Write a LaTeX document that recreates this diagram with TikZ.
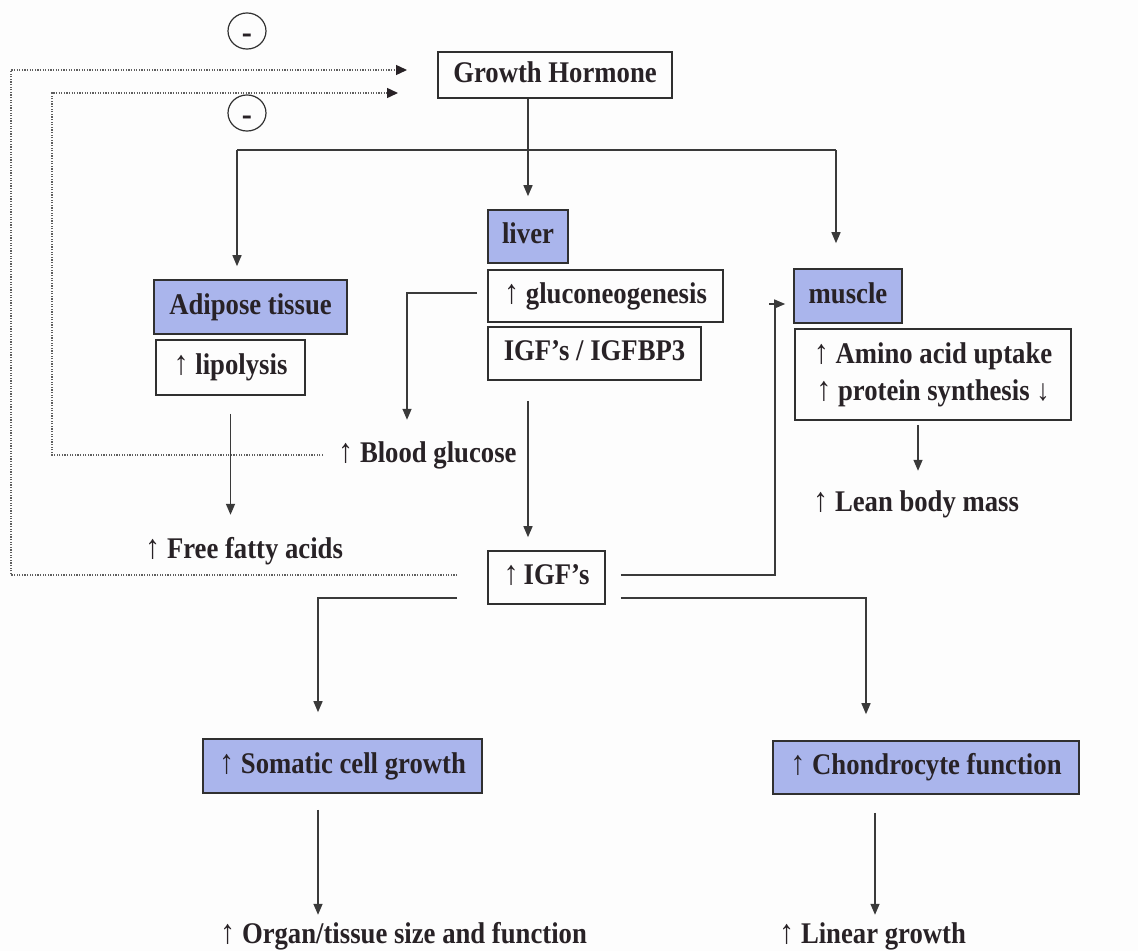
\documentclass[tikz,border=0pt]{standalone}
\usepackage{fontspec}
\setmainfont{Liberation Serif}[FakeStretch=0.89]
\usetikzlibrary{arrows.meta,calc,shapes.geometric}

\definecolor{paper}{RGB}{253,253,253}
\definecolor{lav}{RGB}{170,181,236}
\definecolor{ink}{RGB}{40,34,38}
\definecolor{edge}{RGB}{48,48,48}
\definecolor{wire}{RGB}{58,58,58}
\definecolor{dots}{RGB}{95,95,95}

\newcommand\diagfont{\fontsize{30}{37}\selectfont\bfseries}
% thin, tall "increase" arrow
\newcommand\up{{\mdseries\fontsize{34}{34}\selectfont ↑}}

\tikzset{
  lbl/.style={font=\diagfont, text=ink, inner sep=0pt, text height=21pt, text depth=7pt},
  plainbox/.style={lbl, draw=edge, line width=1.6pt},
  organbox/.style={plainbox, fill=lav},
  twoline/.style={font=\diagfont, text=ink, inner sep=0pt, draw=edge, line width=1.6pt, align=center},
  link/.style={draw=wire, line width=1.4pt},
  tip/.style={-{Triangle[length=11pt,width=9pt]}},
  fbtip/.style={-{Triangle[length=11pt,width=10pt,color=ink]}},
  feedback/.style={draw=dots, line width=1.4pt, dash pattern=on 1.3pt off 1.3pt},
  inhib/.style={ellipse, draw=edge, line width=1.2pt, minimum width=38pt, minimum height=32pt,
                inner sep=0pt, font=\fontsize{34}{34}\selectfont\bfseries, text=ink,
                text height=25.5pt, text depth=0pt}
}

\begin{document}
\begin{tikzpicture}[x=1pt,y=-1pt]
  \fill[paper] (0,0) rectangle (1138,951);
  \useasboundingbox (0,0) rectangle (1138,951);

  % central hormone and the two negative-feedback marks
  \node[plainbox, minimum width=234pt, minimum height=46pt] (gh) at (555,75) {Growth Hormone};
  \node[inhib] (m1) at (247,31) {-};
  \node[inhib] (m2) at (247,113) {-};

  % target tissues and their responses
  \node[organbox, minimum width=193pt, minimum height=54pt] (adipose) at (250.5,307) {Adipose tissue};
  \node[plainbox, minimum width=149pt, minimum height=55pt] (lipo) at (230.5,367.5) {\up\ lipolysis};

  \node[organbox, minimum width=80pt, minimum height=53pt] (liver) at (528,236.5) {liver};
  \node[plainbox, minimum width=235pt, minimum height=52pt] (gluc) at (605.5,296) {\up\ gluconeogenesis};
  \node[plainbox, minimum width=213pt, minimum height=53pt] (igfbp) at (594.5,353.5) {IGF’s / IGFBP3};

  \node[organbox, minimum width=108pt, minimum height=54pt] (muscle) at (848,296) {muscle};
  \node[twoline, minimum width=276pt, minimum height=91pt] (aa) at (933,374.5)
        {\up\ Amino acid uptake\\ \up\ protein synthesis ↓};

  \node[plainbox, minimum width=117pt, minimum height=53pt] (igf) at (546.5,577.5) {\up\,IGF’s};

  \node[organbox, minimum width=279pt, minimum height=54pt] (somatic) at (342.5,766) {\up\ Somatic cell growth};
  \node[organbox, minimum width=306pt, minimum height=53pt] (chondro) at (926,767.5) {\up\ Chondrocyte function};

  % free-standing outcomes
  \node[lbl, anchor=west] (bg) at (338,455) {\up\ Blood glucose};
  \node[lbl, anchor=west] (ffa) at (145,551) {\up\ Free fatty acids};
  \node[lbl, anchor=west] (lean) at (813,504) {\up\ Lean body mass};
  \node[lbl, anchor=west] (organ) at (220,936) {\up\ Organ/tissue size and function};
  \node[lbl, anchor=west] (linear) at (779,936) {\up\ Linear growth};

  % branch points
  \coordinate (hl) at (237,150);
  \coordinate (hr) at (836,150);
  \coordinate (bgc) at (407,293);
  \coordinate (mk) at (775,304);
  \coordinate (sl) at (318,598);
  \coordinate (sr) at (866,598);
  \coordinate (outerTop) at (11,70);
  \coordinate (outerTip) at (407,70);
  \coordinate (innerTop) at (52,93);
  \coordinate (innerTip) at (398,93);

  % growth hormone to the tissues
  \draw[link,tip] (gh.south -| liver.north) -- ($(liver.north)+(0,-13)$);
  \draw[link] (hl) -- (hr);
  \draw[link,tip] (hl) -- ($(adipose.north -| hl)+(0,-13)$);
  \draw[link,tip] (hr) -- ($(muscle.north -| hr)+(0,-25)$);

  % tissue responses
  \draw[link,tip] ($(lipo.south)+(0,18)$) -- ($(lipo.south |- ffa.north)+(0,-22)$);
  \draw[link,tip] ($(gluc.west)+(-10,-3)$) -- (bgc) -- ($(bgc |- bg.north)+(0,-21)$);
  \draw[link,tip] ($(igfbp.south -| liver.south)+(0,20)$) -- ($(igf.north -| liver.south)+(0,-13)$);
  \draw[link,tip] ($(aa.south)+(-15,4)$) -- ($(aa.south)+(-15,50)$);

  % IGF actions
  \draw[link] ($(igf.east)+(15,-2.5)$) -| (mk);
  \draw[link,tip] ($(mk)+(-6,0)$) -- ($(muscle.west |- mk)+(-8,0)$);
  \draw[link,tip] ($(igf.west |- sl)+(-30,0)$) -| ($(somatic.north -| sl)+(0,-26)$);
  \draw[link,tip] ($(igf.east |- sr)+(15,0)$) -| ($(chondro.north -| sr)+(0,-26)$);
  \draw[link,tip] ($(somatic.south -| sl)+(0,16)$) -- ($(organ.north -| sl)+(0,-7)$);
  \draw[link,tip] ($(chondro.south)+(-51,18)$) -- ($(chondro.south |- linear.north)+(-51,-7)$);

  % negative feedback loops back to growth hormone
  \draw[feedback,fbtip] ($(igf.west)+(-30,-2.5)$) -| (outerTop) -- (outerTip);
  \draw[feedback,fbtip] ($(bg.west)+(-15,0)$) -| (innerTop) -- (innerTip);
\end{tikzpicture}
\end{document}
